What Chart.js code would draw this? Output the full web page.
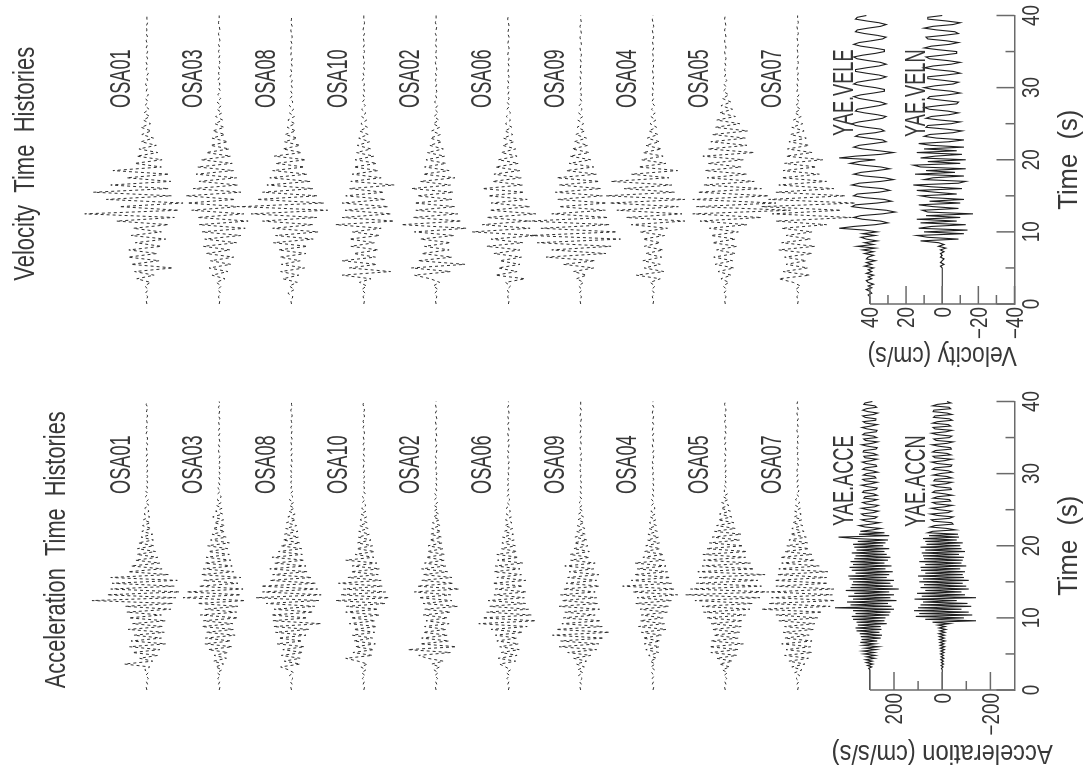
<!DOCTYPE html>
<html>
<head>
<meta charset="utf-8">
<script src="https://cdn.jsdelivr.net/npm/chart.js@4.4.0/dist/chart.umd.min.js"></script>
<style>
  html, body { margin: 0; padding: 0; width: 1083px; height: 772px; overflow: hidden; background: #fff; }
  /* the figure is portrait; it is turned a quarter turn to fit the landscape page */
  #page { position: absolute; left: 0; top: 0; width: 772px; height: 1083px;
          transform-origin: 0 0; transform: translate(0, 772px) rotate(-90deg); }
  .panel { position: absolute; top: 0; width: 386px; height: 1083px; }
</style>
</head>
<body>
<div id="page">
  <div class="panel" style="left:0"><canvas id="accChart" width="386" height="1083"></canvas></div>
  <div class="panel" style="left:386px"><canvas id="velChart" width="386" height="1083"></canvas></div>
</div>
<script>
// Stations, top to bottom
const stations = ['OSA01', 'OSA03', 'OSA08', 'OSA10', 'OSA02', 'OSA06', 'OSA09', 'OSA04', 'OSA05', 'OSA07'];
const velYaeNames = ['YAE.VELE', 'YAE.VELN'];
const accYaeNames = ['YAE.ACCE', 'YAE.ACCN'];

// Time axis (s)
const timeTicks = [0, 10, 20, 30, 40];
const timeMinorTicks = [5, 15, 25, 35];

// Amplitude axes
const velTicks = [40, 20, 0, -20, -40];        // cm/s
const velMinorTicks = [30, 10, -10, -30];
const accTicks = [200, 0, -200];               // cm/s/s
const accMinorTicks = [100, -100];
const velSpacing = 40;    // cm/s between trace baselines
const accSpacing = 300;   // cm/s/s between trace baselines

// Sample steps (s)
const velOsaStep = 0.5;
const accOsaStep = 0.4;
const velYaeStep = 0.25;
const accYaeStep = 0.2;

// OSA velocity traces, normalised, in percent of the trace spacing
const velOSA01 = [0, 1, -1, 2, -2, 3, -5, 14, -10, 17,
  -36, 22, -17, 26, -14, 25, -20, 16, -26, 22,
  -20, 19, -30, 42, -38, 86, -44, 38, -50, 56,
  -34, 74, -30, 50, -33, 28, -31, 47, -20, 17,
  -21, 14, -15, 11, -13, 8, -9, 7, -6, 8,
  -5, 5, -4, 4, -3, 3, -2, 2, -2, 1,
  -1, 2, -1, 1, -2, 1, -1, 1, -1, 1,
  -1, 1, -1, 1, -1, 1, 0, 1, -1, 0, 0];
const velOSA03 = [0, -1, 1, -2, 2, -3, 4, -8, 10, -12,
  14, -16, 12, -20, 18, -15, 22, -24, 20, -30,
  24, -36, 28, -40, 30, -34, 38, -28, 44, -22,
  46, -30, 36, -26, 28, -24, 32, -20, 30, -18,
  25, -16, 18, -14, 12, -12, 10, -8, 9, -7,
  6, -5, 5, -4, 3, -3, 3, -2, 2, -2,
  1, -1, 2, -1, 1, -1, 1, -1, 1, -1,
  1, -1, 1, -1, 0, 1, -1, 0, 1, 0, 0];
const velOSA08 = [0, 1, -2, 5, -4, 3, -8, 12, -10, 15,
  -18, 14, -12, 16, -20, 18, -22, 25, -30, 22,
  -37, 26, -30, 40, -35, 56, -50, 70, -45, 48,
  -36, 40, -30, 34, -26, 30, -22, 26, -18, 22,
  -20, 24, -14, 12, -12, 10, -8, 9, -6, 6,
  -5, 5, -4, 3, -3, 3, -2, 2, -2, 1,
  -1, 1, -1, 2, -1, 1, -1, 1, -1, 1,
  0, 1, -1, 1, -1, 0, 1, -1, 1, 0, 0];
const velOSA10 = [0, -1, 1, -2, 3, -4, 6, -10, 30, -37,
  20, -18, 30, -16, 14, -20, 18, -15, 20, -22,
  16, -24, 39, -42, 30, -38, 26, -34, 30, -30,
  25, -28, 20, -42, 18, -24, 16, -20, 14, -18,
  12, -14, 10, -10, 9, -8, 7, -6, 6, -5,
  4, -4, 3, -3, 3, -2, 2, -2, 1, -1,
  1, -1, 2, -1, 1, -1, 1, -1, 0, 1,
  -1, 1, -1, 0, 1, -1, 1, 0, -1, 0, 0];
const velOSA02 = [0, 1, -1, 2, -3, 4, -5, 8, 30, -20,
  34, -40, 25, -22, 20, -18, 16, -20, 22, -25,
  30, -42, 48, -35, 32, -30, 28, -26, 30, -22,
  26, -24, 34, -20, 22, -26, 18, -18, 16, -14,
  14, -12, 12, -10, 9, -8, 8, -6, 6, -5,
  4, -4, 3, -3, 2, -2, 2, -1, 1, -1,
  1, -1, 1, -1, 1, -1, 0, 1, -1, 1,
  0, -1, 1, 0, -1, 1, 0, -1, 1, 0, 0];
const velOSA06 = [0, -1, 1, -1, 2, -3, 4, -23, 18, -12,
  14, -16, 12, -18, 20, -16, 30, -20, 24, -38,
  50, -30, 36, -28, 30, -38, 26, -30, 24, -26,
  28, -22, 36, -20, 22, -18, 20, -16, 18, -14,
  14, -12, 10, -10, 8, -8, 7, -6, 5, -5,
  4, -3, 3, -3, 2, -2, 2, -1, 1, -1,
  1, -1, 1, -1, 1, 0, -1, 1, -1, 1,
  0, -1, 1, 0, -1, 1, 0, -1, 0, 1, 0];
const velOSA09 = [0, 1, -1, 2, -2, 3, -4, 6, -8, 10,
  -18, 24, -20, 48, -35, 40, -42, 60, -55, 70,
  -50, 55, -40, 72, -38, 40, -34, 30, -36, 32,
  -30, 35, -28, 30, -26, 33, -22, 20, -18, 16,
  -14, 15, -12, 12, -10, 9, -8, 7, -6, 5,
  -4, 4, -3, 3, -2, 2, -2, 1, -1, 1,
  -1, 1, -1, 1, -1, 1, 0, -1, 1, -1,
  0, 1, -1, 0, 1, -1, 0, 1, -1, 0, 0];
const velOSA04 = [0, -1, 1, -2, 2, -3, 4, -10, 23, -15,
  12, -10, 14, -12, 10, -14, 12, -10, 14, -16,
  18, -20, 30, -44, 37, -40, 50, -35, 60, -44,
  65, -30, 40, -26, 58, -22, 30, -34, 20, -18,
  16, -14, 14, -12, 10, -9, 8, -7, 6, -5,
  4, -4, 3, -3, 2, -2, 2, -1, 1, -1,
  1, -1, 1, -1, 0, 1, -1, 1, -1, 0,
  1, -1, 0, 1, -1, 0, 1, -1, 0, 1, 0];
const velOSA05 = [0, 1, -1, 2, -2, 3, -5, 6, -8, 10,
  -12, 14, -10, 16, -14, 12, -16, 18, -14, 20,
  -18, 22, -30, 35, -50, 45, -90, 40, -70, 45,
  -60, 38, -50, 30, -40, 25, -30, 28, -22, 24,
  -25, 31, -40, 24, -30, 20, -28, 18, -31, 14,
  -20, 12, -14, 8, -10, 6, -8, 4, -5, 3,
  -2, 2, -2, 1, -1, 1, -1, 1, -1, 0,
  1, -1, 0, 1, -1, 0, 1, -1, 0, 1, 0];
const velOSA07 = [0, -1, 1, -2, 3, -4, 6, 26, -17, 20,
  -14, 16, -12, 18, -20, 26, -24, 22, -18, 16,
  -20, 22, -40, 30, -74, 35, -60, 50, -80, 40,
  -66, 30, -50, 26, -40, 22, -30, 20, -26, 18,
  -35, 16, -20, 14, -16, 12, -12, 10, -9, 8,
  -7, 6, -5, 4, -4, 3, -3, 2, -2, 1,
  -1, 1, -1, 1, -1, 1, 0, -1, 1, -1,
  0, 1, -1, 0, 1, -1, 0, 1, -1, 0, 0];

// OSA acceleration traces, normalised, in percent of the trace spacing
const accOSA01 = [0, 1, -1, 1, -2, 2, -2, 3, -4, 31,
  -8, 10, -15, 20, -18, 24, -26, 22, -20, 18,
  -24, 26, -22, 20, -26, 25, -20, 28, -33, 30,
  -36, 76, -40, 55, -45, 50, -38, 48, -42, 50,
  -30, 26, -21, 22, -18, 16, -15, 14, -12, 13,
  -10, 12, -9, 8, -8, 7, -6, 6, -5, 5,
  -4, 4, -3, 3, -3, 2, -2, 2, -2, 2,
  -1, 1, -1, 1, -1, 1, -1, 1, -1, 1,
  -1, 1, -1, 0, 1, -1, 1, -1, 0, 1,
  -1, 1, -1, 0, 1, -1, 1, 0, -1, 1, 0];
const accOSA03 = [0, -1, 1, -1, 2, -2, 3, -4, 5, -6,
  8, -10, 7, -12, 15, -18, 20, -16, 19, -22,
  18, -20, 24, -19, 22, -26, 26, -24, 20, -26,
  30, -36, 50, -30, 45, -33, 28, -26, 22, -30,
  25, -20, 22, -18, 20, -16, 18, -14, 15, -12,
  16, -14, 12, -10, 10, -8, 9, -8, 7, -6,
  9, -5, 5, -4, 4, -3, 3, -3, 2, -2,
  2, -1, 1, -1, 1, -1, 1, -1, 1, -1,
  1, -1, 0, 1, -1, 1, -1, 0, 1, -1,
  1, -1, 0, 1, -1, 1, 0, -1, 1, -1, 0];
const accOSA08 = [0, 1, -1, 2, -2, 3, -3, 4, 15, -12,
  10, -12, 14, -16, 12, -18, 20, -15, 18, -20,
  22, -24, 25, -41, 26, -22, 28, -30, 24, -32,
  35, -38, 49, -41, 40, -36, 42, -34, 30, -28,
  26, -22, 30, -20, 24, -18, 27, -15, 18, -14,
  15, -12, 12, -10, 10, -9, 8, -7, 7, -6,
  5, -5, 4, -4, 3, -3, 3, -2, 2, -2,
  1, -1, 1, -1, 1, -1, 1, -1, 1, -1,
  0, 1, -1, 1, -1, 0, 1, -1, 1, 0,
  -1, 1, -1, 0, 1, -1, 0, 1, -1, 0, 0];
const accOSA10 = [0, -1, 1, -1, 2, -2, 3, -3, 4, -5,
  8, 25, -12, 15, -14, 12, -16, 14, -12, 16,
  -15, 14, -18, 20, -16, 18, -22, 25, -20, 24,
  -30, 39, -35, 32, -30, 28, -26, 35, -24, 22,
  -20, 18, -22, 16, -18, 25, -14, 12, -15, 10,
  -12, 9, -10, 8, -8, 7, -6, 6, -5, 5,
  -4, 4, -3, 3, -3, 2, -2, 2, -2, 1,
  -1, 1, -1, 1, -1, 1, -1, 1, 0, -1,
  1, -1, 1, 0, -1, 1, -1, 0, 1, -1,
  0, 1, -1, 1, 0, -1, 1, -1, 0, 1, 0];
const accOSA02 = [0, 1, -1, 1, -2, 2, -3, 3, -5, 6,
  -10, 12, 24, -20, 39, -28, 22, -18, 20, -16,
  18, -14, 16, -18, 14, -16, 18, -20, 16, -30,
  18, -22, 24, -20, 30, -32, 26, -24, 20, -22,
  18, -16, 20, -14, 16, -12, 14, -12, 12, -10,
  11, -9, 9, -8, 8, -7, 6, -6, 5, -5,
  4, -4, 3, -3, 3, -2, 2, -2, 2, -1,
  1, -1, 1, -1, 1, -1, 1, 0, -1, 1,
  -1, 1, 0, -1, 1, -1, 0, 1, -1, 0,
  1, -1, 0, 1, -1, 0, 1, -1, 0, 1, 0];
const accOSA06 = [0, -1, 1, -1, 2, -2, 3, -3, 4, 12,
  -10, 14, -12, 10, -15, 12, -14, 16, -12, 18,
  -20, 24, -26, 41, -38, 36, -32, 30, -28, 26,
  -24, 28, -22, 20, -25, 18, -20, 22, -24, 16,
  -18, 20, -16, 18, -20, 15, -14, 16, -12, 10,
  -10, 9, -8, 8, -7, 6, -6, 5, -5, 4,
  -4, 3, -3, 3, -2, 2, -2, 2, -1, 1,
  -1, 1, -1, 1, -1, 0, 1, -1, 1, -1,
  0, 1, -1, 1, 0, -1, 1, -1, 0, 1,
  -1, 0, 1, -1, 0, 1, -1, 0, 1, -1, 0];
const accOSA09 = [0, 1, -1, 2, -2, 3, -3, 4, -5, 6,
  -8, 10, -14, 18, -22, 30, -25, 28, -32, 39,
  -40, 34, -30, 26, -28, 24, -20, 22, -26, 30,
  -24, 26, -22, 28, -20, 24, -26, 20, -22, 18,
  -25, 16, -18, 22, -20, 14, -12, 15, -12, 10,
  -10, 9, -9, 8, -7, 6, -6, 5, -5, 4,
  -4, 3, -3, 3, -2, 2, -2, 1, -1, 1,
  -1, 1, -1, 1, 0, -1, 1, -1, 1, 0,
  -1, 1, -1, 0, 1, -1, 0, 1, -1, 1,
  0, -1, 1, 0, -1, 1, 0, -1, 1, 0, 0];
const accOSA04 = [0, -1, 1, -1, 1, -2, 2, -2, 3, -3,
  4, -5, 6, -8, 10, -9, 12, -10, 14, -12,
  16, -18, 20, -16, 18, -14, 16, -20, 18, -22,
  24, -26, 22, -34, 28, -30, 42, -26, 30, -24,
  26, -20, 22, -18, 25, -16, 14, -15, 12, -10,
  10, -9, 8, -8, 7, -6, 6, -5, 5, -4,
  4, -3, 3, -3, 2, -2, 2, -1, 1, -1,
  1, -1, 1, -1, 1, 0, -1, 1, -1, 1,
  0, -1, 1, -1, 0, 1, -1, 0, 1, -1,
  1, 0, -1, 1, 0, -1, 1, 0, -1, 1, 0];
const accOSA05 = [0, 1, -1, 1, -2, 2, -3, 4, -6, 8,
  -10, 12, -16, 20, -18, 22, -25, 20, -18, 16,
  -20, 18, -22, 20, -24, 26, -28, 30, -34, 32,
  -38, 42, -48, 55, -60, 48, -50, 40, -45, 36,
  -55, 38, -40, 32, -35, 30, -28, 31, -30, 26,
  -25, 22, -20, 18, -22, 15, -14, 12, -12, 10,
  -9, 8, -7, 6, -5, 5, -4, 3, -3, 2,
  -2, 2, -1, 1, -1, 1, -1, 1, -1, 1,
  0, -1, 1, -1, 0, 1, -1, 1, 0, -1,
  1, -1, 0, 1, -1, 0, 1, -1, 0, 1, 0];
const accOSA07 = [0, -1, 1, -2, 2, -3, 4, -6, 8, -10,
  12, -15, 18, -20, 16, -18, 22, -20, 18, -16,
  20, -22, 18, -24, 26, -28, 30, -34, 50, -45,
  40, -52, 36, -48, 38, -50, 30, -42, 32, -40,
  28, -42, 26, -30, 22, -24, 24, -20, 18, -16,
  15, -14, 12, -12, 10, -9, 8, -7, 7, -6,
  5, -5, 4, -4, 3, -3, 3, -2, 2, -2,
  1, -1, 1, -1, 1, -1, 1, 0, -1, 1,
  -1, 1, 0, -1, 1, -1, 0, 1, -1, 0,
  1, -1, 0, 1, -1, 0, 1, -1, 0, 1, 0];

// YAE velocity (cm/s)
const velYAE_E = [0, 0, 0, 0, 0, 1, -1, 0, 2, -1, 1, -2, 1, 2, -1, 1, -2, 2, -1, 1,
  -2, 3, -1, 2, -3, 2, 1, -2, 3, -2, 4, -3, 7, -2, 3, -4, 2, 5, -3, 4,
  -4, 3, 17, 9, -3, -10, -6, 4, 9, 5, -7, -14, -9, 2, 10, 8, -4, -12, -8, 3,
  9, 7, -5, -11, -7, 4, 10, 6, -6, -13, -8, 3, 9, 5, -4, -11, -6, 4, 11, 6,
  -3, 17, 8, -6, -13, -5, 4, 9, 6, -2, -9, -7, 1, 8, 6, -3, -8, -6, 2, 8,
  10, 6, -1, -7, -9, -4, 3, 8, 7, 1, -5, -9, -6, 0, 6, 9, 5, -2, -8, -8,
  -3, 4, 9, 7, 1, -6, -9, -5, 2, 8, 8, 2, -5, -9, -6, 1, 7, 9, 4, -3,
  -8, -8, -2, 5, 9, 6, -1, -7, -9, -4, 3, 8, 7, 1, -6, -9, -5, 2, 8, 7, 2];
const velYAE_N = [0, 0, 0, 0, 0, 0, 0, 0, 0, 0, 0, 0, 0, 0, 0, 0, 0, 0, 0, 0,
  0, 1, -1, 1, 0, -1, 1, 0, 1, -1, 1, -2, 2, -1, 2, 12, -9, 8, 14, -12,
  10, -14, 13, 6, -13, 12, -8, 14, -10, 9, -17, 8, 11, -9, 5, 13, -10, 7, -12, 6,
  12, -8, 4, 14, -11, 6, 16, -9, -13, 10, 5, -12, 15, -7, 9, -13, 12, 16, -10, 8,
  -13, 12, 4, -11, 14, -8, 10, -12, 6, 13, -4, -12, 3, 10, 7, -6, -11, -2, 9, 8,
  -5, -10, 1, 9, 6, -4, -9, -3, 7, 10, 2, -8, -9, 0, 8, 7, -3, -10, -5, 5,
  10, 4, -6, -9, -1, 8, 8, -2, -10, -6, 4, 10, 5, -5, -10, -3, 7, 9, 0, -8,
  -8, 2, 10, 6, -4, -9, -2, 8, 9, -1, -9, -7, 3, 10, 5, -6, -10, -2, 8, 8, 0];

// YAE acceleration (cm/s/s)
const accYAE_E = [0, 0, 0, 0, 0, 0, 0, 0, 0, 0, 0, 0, 0, 0, 0, 5, -8, 10, -12, 15, -10, 18, -20, 14, -22,
  25, -18, 30, -26, 20, -35, 28, -22, 40, -30, 35, -45, 38, -50, 42, -40, 55, -48, 60, -45, 50, -70, 55, -60, 70,
  -65, 75, -80, 60, -85, 70, -100, 145, -90, 80, -75, 95, -110, 70, -85, 90, -100, 65, -80, 100, -120, 80, -95, 75, -85,
  70, -100, 85, -70, 90, -80, 60, -95, 75, -65, 85, -90, 70, -60, 80, -75, 65, -85, 60, -70, 75, -60, 55, -80, 65,
  -55, 70, -65, 50, -75, 60, 130, -80, 45, -60, 40, -10, -45, 20, 45, -5, -40, 15, 35, -20, -30, 25, 35, -15, -35,
  10, 35, -20, -35, 15, 30, -10, -30, 25, 20, -30, -15, 30, 25, -25, -30, 10, 35, -5, -30, 20, 30, -25, -20, 28,
  15, -32, -10, 30, 20, -28, -25, 15, 32, -5, -30, 20, 25, -30, -15, 28, 25, -25, -30, 10, 34, -8, -32, 18, 26,
  -28, -15, 30, 22, -26, -30, 12, 33, -5, -30, 18, 28, -24, -25, 20, 30, -15, -32, 8, 30, 15, -28, -20, 25, 20, -10];
const accYAE_N = [0, 0, 0, 0, 0, 0, 0, 0, 0, 0, 0, 0, 0, 0, 0, 3, -4, 5, -6, 4, -5, 6, -7, 5, -6,
  7, -8, 6, -9, 8, -10, 9, -8, 10, -12, 11, -9, 12, -10, 14, -12, 10, -15, 13, -12, 18, -30, 40, -140, 70,
  -90, 110, -125, 95, -110, 117, -80, 100, -120, 90, -105, 80, -60, 115, -140, 85, -95, 105, -80, 70, -110, 90, -100, 75, -85,
  95, -110, 80, -90, 100, -85, 70, -95, 88, -75, 90, -100, 70, -80, 95, -85, 75, -90, 80, -70, 85, -95, 70, -80, 90,
  -75, 65, -85, 70, -60, 80, -70, 55, -65, 60, 40, -55, -20, 50, 30, -45, -40, 35, 45, -30, -45, 20, 48, -25, -40,
  15, 45, -10, -42, 25, 40, -35, -30, 38, 20, -42, -10, 40, 30, -38, -35, 25, 42, -15, -40, 35, 30, -40, -20, 38,
  10, -42, -25, 40, 30, -36, -40, 20, 44, -10, -40, 30, 38, -36, -20, 40, 28, -38, -35, 15, 42, -20, -45, 25, 35,
  -30, -40, 20, 44, -15, -40, 30, 38, -35, -25, 40, 20, -42, -30, 36, 30, -40, -20, 38, 35, -35, -28, 40, 20, -36, -20];

const FONT = "'Liberation Sans', 'DejaVu Sans', sans-serif";
const TEXT = '#383838';
const AXIS = '#6a6a6a';
Chart.defaults.font.family = FONT;
Chart.defaults.color = TEXT;

// horizontally condensed text, like the plotting font of the original
function squeezed(ctx, str, x, y, scale, align) {
  ctx.save();
  ctx.translate(x, y);
  ctx.scale(scale, 1);
  ctx.textAlign = align;
  ctx.fillText(str, 0, 0);
  ctx.restore();
}
const fitScale = (ctx, str, width) => width / ctx.measureText(str).width;
const signed = v => (v < 0 ? '\u2212' + Math.abs(v) : String(v));

// axis lines, inward ticks, tick labels, trace names and titles
const seismoDecor = {
  id: 'seismoDecor',
  afterDraw(chart, args, o) {
    const { ctx, chartArea: ca, scales: { x, y } } = chart;
    const x0 = x.getPixelForValue(0);
    const yTop = y.getPixelForValue(o.spacing);
    const yBot = y.getPixelForValue(-o.spacing);
    const midX = (ca.left + ca.right) / 2;
    const line = (a, b, c, d) => { ctx.beginPath(); ctx.moveTo(a, b); ctx.lineTo(c, d); ctx.stroke(); };

    ctx.save();
    ctx.strokeStyle = AXIS;
    ctx.lineWidth = 1.5;
    line(x0, yTop, x0, yBot);
    o.ticks.forEach(v => { const p = y.getPixelForValue(v); line(x0, p, x0 + 18, p); });
    o.minorTicks.forEach(v => { const p = y.getPixelForValue(v); line(x0, p, x0 + 9, p); });
    timeTicks.forEach(t => { const p = x.getPixelForValue(t); line(p, yBot, p, yBot - 18); });
    timeMinorTicks.forEach(t => { const p = x.getPixelForValue(t); line(p, yBot, p, yBot - 9); });

    ctx.fillStyle = TEXT;
    ctx.textBaseline = 'alphabetic';

    // tick labels
    ctx.font = '23px ' + FONT;
    timeTicks.forEach(t => squeezed(ctx, String(t), x.getPixelForValue(t), yBot + 24, 0.82, 'center'));
    o.ticks.forEach(v => squeezed(ctx, signed(v), x0 - 3, y.getPixelForValue(v) + 8.3, 0.82, 'right'));

    // trace names
    ctx.font = '29px ' + FONT;
    const nameScale = fitScale(ctx, 'OSA01', 58.6);
    o.names.forEach((name, k) => {
      const offset = (o.names.length - 1 - k) * o.spacing;
      squeezed(ctx, name, x.getPixelForValue(35.3), y.getPixelForValue(offset + 0.235 * o.spacing), nameScale, 'right');
    });

    // panel title
    squeezed(ctx, o.title, midX - 4, ca.top - o.titleGap, fitScale(ctx, o.title, o.titleWidth), 'center');

    // axis titles
    ctx.font = '28px ' + FONT;
    const xTitle = 'Time  (s)';
    squeezed(ctx, xTitle, midX, chart.height - 6, fitScale(ctx, xTitle, 100), 'center');
    ctx.save();
    ctx.translate(o.yTitleX, y.getPixelForValue(0));
    ctx.rotate(-Math.PI / 2);
    ctx.textBaseline = 'middle';
    squeezed(ctx, o.yTitle, 0, 0, fitScale(ctx, o.yTitle, o.yTitleWidth), 'center');
    ctx.restore();
    ctx.restore();
  }
};

function makePanel(canvasId, p) {
  const datasets = [];
  p.osa.forEach((vals, k) => datasets.push({
    label: stations[k],
    data: vals.map((v, i) => ({ x: i * p.osaStep, y: (11 - k) * p.spacing + v * p.spacing / 100 })),
    borderColor: '#303030',
    borderWidth: 1,
    borderDash: [3, 3]
  }));
  p.yae.forEach((vals, k) => datasets.push({
    label: p.yaeNames[k],
    data: vals.map((v, i) => ({ x: i * p.yaeStep, y: (1 - k) * p.spacing + v })),
    borderColor: '#1e1e1e',
    borderWidth: 1.1
  }));

  new Chart(document.getElementById(canvasId), {
    type: 'line',
    data: { datasets },
    plugins: [seismoDecor],
    options: {
      responsive: false,
      animation: false,
      events: [],
      layout: { padding: { top: 74.6, right: 15.5, bottom: 0, left: 0 } },
      elements: { point: { radius: 0 }, line: { tension: 0 } },
      datasets: { line: { clip: false } },
      scales: {
        x: {
          type: 'linear', min: 0, max: 40,
          afterFit: s => { s.height = 68.5; },
          border: { display: true, color: AXIS, width: 1.5 },
          grid: { drawOnChartArea: false, drawTicks: false },
          ticks: { display: false, stepSize: 10 }
        },
        y: {
          type: 'linear', min: -p.spacing, max: 12 * p.spacing,
          afterFit: s => { s.width = 82; },
          border: { display: false },
          grid: { display: false },
          ticks: { display: false }
        }
      },
      plugins: {
        legend: { display: false },
        tooltip: { enabled: false },
        seismoDecor: {
          spacing: p.spacing, ticks: p.ticks, minorTicks: p.minorTicks,
          names: stations.concat(p.yaeNames),
          title: p.title, titleGap: p.titleGap, titleWidth: p.titleWidth,
          yTitle: p.yTitle, yTitleX: p.yTitleX, yTitleWidth: p.yTitleWidth
        }
      }
    }
  });
}

makePanel('accChart', {
  title: 'Acceleration  Time  Histories', titleGap: 9.2, titleWidth: 277,
  yTitle: 'Acceleration (cm/s/s)', yTitleX: 19.5, yTitleWidth: 221,
  spacing: accSpacing, ticks: accTicks, minorTicks: accMinorTicks,
  osa: [accOSA01, accOSA03, accOSA08, accOSA10, accOSA02, accOSA06, accOSA09, accOSA04, accOSA05, accOSA07],
  osaStep: accOsaStep,
  yae: [accYAE_E, accYAE_N], yaeNames: accYaeNames, yaeStep: accYaeStep
});

makePanel('velChart', {
  title: 'Velocity  Time  Histories', titleGap: 40.2, titleWidth: 234,
  yTitle: 'Velocity (cm/s)', yTitleX: 31, yTitleWidth: 149,
  spacing: velSpacing, ticks: velTicks, minorTicks: velMinorTicks,
  osa: [velOSA01, velOSA03, velOSA08, velOSA10, velOSA02, velOSA06, velOSA09, velOSA04, velOSA05, velOSA07],
  osaStep: velOsaStep,
  yae: [velYAE_E, velYAE_N], yaeNames: velYaeNames, yaeStep: velYaeStep
});
</script>
</body>
</html>
